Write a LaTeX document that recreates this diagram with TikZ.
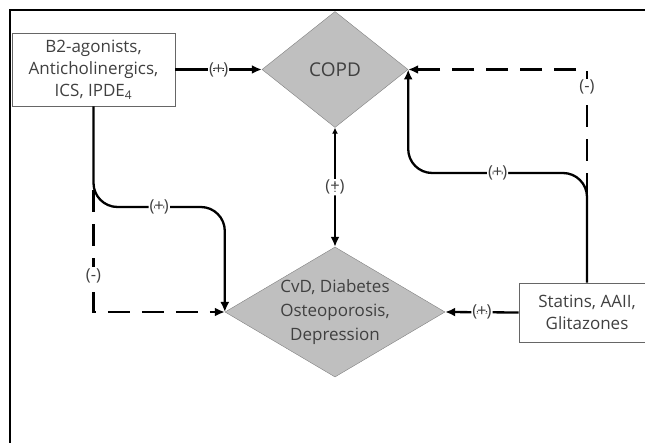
\documentclass[tikz,border=0pt]{standalone}
\usepackage{fontspec}
\setmainfont{Open Sans}
\usetikzlibrary{arrows.meta}
\usetikzlibrary{positioning, calc}
\usetikzlibrary{shapes.geometric}

\begin{document}
\begin{tikzpicture}[x=1pt, y=-1pt,
    txt/.style={text=black!75, align=center, font=\fontsize{17}{22}\selectfont},
    block/.style={txt, draw=black!60, thick, inner sep=0pt},
    rhomb/.style={txt, diamond, draw=black!50, fill=gray!50},
    link/.style={black, line width=2.3pt, -{Latex[length=10pt, width=9pt]}, rounded corners=24pt},
    dash link/.style={link, sharp corners, dash pattern=on 22pt off 12pt},
    sign/.style={fill=white, text=black!75, inner sep=1pt, font=\fontsize{16.5}{16.5}\selectfont}
]
    \useasboundingbox (0,0) rectangle (645,443);
    \draw[line width=1.5pt] (10,443) -- (10,10) -- (645,10);

    \node[block, minimum width=163pt, minimum height=73pt] (drugs) at (93.5,69.5) {B2-agonists,\\Anticholinergics,\\ICS, IPDE\textsubscript{4}};
    \node[block, minimum width=136pt, minimum height=59pt] (statins) at (587,312.5) {Statins, AAII,\\Glitazones};

    \node[rhomb, font=\fontsize{19}{22}\selectfont, inner sep=0pt, shape aspect=1.26, minimum width=146pt, minimum height=116pt] (copd) at (335,69.5) {COPD};
    \node[rhomb, font=\fontsize{17}{24}\selectfont, inner sep=-2pt, shape aspect=1.69, minimum width=220pt, minimum height=130pt] (cvd) at (335,312) {CvD, Diabetes\\Osteoporosis,\\Depression};

    \coordinate (ltop) at (0,207);
    \coordinate (rtop) at (0,173);
    \coordinate (lsplit) at ($(drugs.south)+(0,84)$);
    \coordinate (rsplit) at ($(statins.north)+(0,-88)$);

    % straight links
    \draw[link] (drugs.east) -- node[sign] {(+)} (copd.west);
    \draw[link] (statins.west) -- node[sign] {(+)} (cvd.east);
    \draw[link, {Latex[length=6pt, width=6pt]}-{Latex[length=10pt, width=9pt]}] (copd.south) -- node[sign] {(+)} (cvd.north);

    % bent links
    \draw[link] (drugs.south) |- node[sign, pos=.75] {(+)} (cvd.west |- ltop) -- (cvd.west);
    \draw[dash link] (lsplit) |- node[sign, pos=.35] {(-)} (cvd.west);
    \draw[link] (statins.north) |- node[sign, pos=.75] {(+)} (copd.east |- rtop) -- (copd.east);
    \draw[dash link] (rsplit) |- node[sign, pos=.43] {(-)} (copd.east);

\end{tikzpicture}
\end{document}
